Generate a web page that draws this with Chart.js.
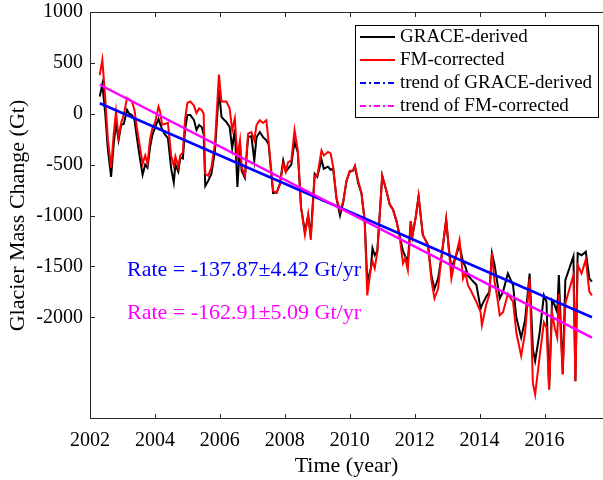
<!doctype html>
<html lang="en">
<head>
    <meta charset="utf-8">
    <title>Glacier Mass Change</title>
    <style>
        html, body { margin: 0; padding: 0; background: #fff; }
        #wrap { width: 603px; height: 480px; }
    </style>
    <script src="https://cdn.jsdelivr.net/npm/chart.js"></script>
</head>
<body>
<div id="wrap"><canvas id="massChart"></canvas></div>

<script>
    // values (Gt)
    const years = [
        2002.30, 2002.38, 2002.47, 2002.55, 2002.65, 2002.73, 2002.80, 2002.88, 2002.96, 2003.04,
        2003.14, 2003.21, 2003.29, 2003.37, 2003.45, 2003.53, 2003.62, 2003.70, 2003.77, 2003.85,
        2003.92, 2004.01, 2004.11, 2004.16, 2004.22, 2004.30, 2004.40, 2004.50, 2004.58, 2004.63,
        2004.72, 2004.78, 2004.86, 2004.93, 2005.00, 2005.09, 2005.20, 2005.28, 2005.36, 2005.44,
        2005.50, 2005.55, 2005.64, 2005.74, 2005.85, 2005.97, 2006.05, 2006.13, 2006.20, 2006.30,
        2006.38, 2006.46, 2006.54, 2006.62, 2006.67, 2006.77, 2006.87, 2006.97, 2007.06, 2007.13,
        2007.23, 2007.33, 2007.43, 2007.50, 2007.64, 2007.75, 2007.85, 2007.95, 2008.03, 2008.10,
        2008.20, 2008.30, 2008.40, 2008.50, 2008.62, 2008.72, 2008.80, 2008.92, 2009.00, 2009.13,
        2009.20, 2009.33, 2009.41, 2009.49, 2009.59, 2009.70, 2009.80, 2009.90, 2010.00, 2010.10,
        2010.16, 2010.26, 2010.36, 2010.46, 2010.54, 2010.65, 2010.70, 2010.77, 2010.85, 2011.00,
        2011.13, 2011.23, 2011.33, 2011.44, 2011.54, 2011.64, 2011.71, 2011.79, 2011.88, 2011.93,
        2012.04, 2012.12, 2012.25, 2012.41, 2012.52, 2012.61, 2012.72, 2012.82, 2012.97, 2013.05,
        2013.13, 2013.27, 2013.38, 2013.49, 2013.56, 2013.64, 2013.75, 2013.90, 2014.03, 2014.07,
        2014.20, 2014.30, 2014.38, 2014.46, 2014.54, 2014.62, 2014.72, 2014.87, 2015.03, 2015.13,
        2015.28, 2015.40, 2015.54, 2015.64, 2015.71, 2015.85, 2015.98, 2016.06, 2016.14, 2016.23,
        2016.31, 2016.39, 2016.44, 2016.56, 2016.64, 2016.89, 2016.95, 2017.02, 2017.14, 2017.27,
        2017.38, 2017.46
    ];
    const graceDerived = [
        170, 290, 0, -350, -620, -300, -90, -260, -110, -100,
        37, 0, -13, -60, -250, -420, -600, -500, -530, -330,
        -210, -130, -50, -100, -150, -200, -240, -540, -675, -500,
        -570, -430, -440, -150, -13, -13, -60, -160, -110, -130,
        -200, -710, -660, -590, -360, 235, -30, -60, -80, -130,
        -340, -150, -720, -300, -560, -630, -230, -220, -460, -230,
        -180, -230, -260, -300, -780, -775, -690, -460, -570, -540,
        -500, -275, -380, -920, -1160, -1000, -1200, -590, -620, -450,
        -540, -520, -550, -540, -830, -1000, -870, -660, -570, -560,
        -520, -680, -780, -1050, -1650, -1520, -1320, -1390, -1350, -610,
        -760, -890, -940, -1055, -1200, -1350, -1400, -1450, -1055, -1200,
        -1000, -810, -1190, -1290, -1600, -1720, -1620, -1420, -1040, -1320,
        -1520, -1400, -1290, -1460, -1500, -1590, -1630, -1680, -1915, -1880,
        -1800, -1750, -1370, -1485, -1650, -1815, -1750, -1570, -1685, -2000,
        -2200, -2030, -1570, -2315, -2430, -2150, -1785, -1850, -2710, -1835,
        -1880, -1950, -1585, -2560, -1635, -1400, -2630, -1370, -1390, -1355,
        -1620, -1650
    ];
    const fmCorrected = [
        380, 530, 150, -250, -530, -200, 20, -230, -90, -10,
        156, 140, 120, 37, -150, -310, -490, -410, -490, -250,
        -142, -80, 70, 20, -110, -100, -90, -410, -510, -420,
        -520, -410, -380, -50, 106, 120, 80, 7, 52, 37,
        0, -590, -610, -525, -290, 385, 120, 120, 120, 53,
        -160, -46, -420, -260, -525, -610, -195, -180, -260, -110,
        -63, -90, -63, -270, -760, -775, -690, -490, -570, -475,
        -460, -160, -360, -920, -1190, -990, -1240, -610, -610, -360,
        -410, -375, -390, -525, -825, -955, -860, -660, -560, -560,
        -510, -660, -775, -1055, -1785, -1520, -1450, -1520, -1355, -610,
        -760, -890, -940, -1055, -1220, -1470, -1420, -1535, -1055, -1200,
        -1000, -810, -1190, -1290, -1650, -1815, -1720, -1420, -1040, -1320,
        -1620, -1390, -1240, -1620, -1560, -1685, -1750, -1850, -1950, -2080,
        -1880, -1780, -1370, -1650, -1800, -1980, -1950, -1770, -1850, -2150,
        -2380, -2150, -1620, -2645, -2760, -2380, -2050, -2100, -2710, -1950,
        -2100, -2200, -1770, -2560, -1865, -1585, -2630, -1485, -1570, -1435,
        -1750, -1785
    ];
    // linear trend end points
    const trendYears = [2002.30, 2017.46];
    const trendGrace = [103, -2000];
    const trendFm = [285, -2200];

    const xTicks = [2002, 2004, 2006, 2008, 2010, 2012, 2014, 2016];
    const yTicks = [1000, 500, 0, -500, -1000, -1500, -2000];

    const seriesNames = ['GRACE-derived', 'FM-corrected', 'trend of GRACE-derived', 'trend of FM-corrected'];
    const seriesColors = ['#000000', '#ff0000', '#0000ff', '#ff00ff'];
    const rateTexts = ['Rate = -137.87\u00b14.42 Gt/yr', 'Rate = -162.91\u00b15.09 Gt/yr'];

    const serif = '"Liberation Serif", "Times New Roman", serif';

    function pts(xs, ys) {
        return xs.map((x, i) => ({x: x, y: ys[i]}));
    }

    // inward tick marks, legend box and rate labels, the way MATLAB draws them
    const decorations = {
        id: 'decorations',
        afterDraw(chart) {
            const ctx = chart.ctx;
            const area = chart.chartArea;
            const xs = chart.scales.x;
            const ys = chart.scales.y;
            ctx.save();
            ctx.strokeStyle = '#262626';
            ctx.lineWidth = 1;
            ctx.beginPath();
            ctx.moveTo(area.left + 0.5, area.bottom);
            ctx.lineTo(area.left + 0.5, area.top + 0.5);
            ctx.lineTo(area.right, area.top + 0.5);
            ctx.moveTo(area.left, area.bottom - 0.5);
            ctx.lineTo(area.right, area.bottom - 0.5);
            xTicks.forEach(v => {
                const px = Math.round(xs.getPixelForValue(v)) + 0.5;
                ctx.moveTo(px, area.bottom);
                ctx.lineTo(px, area.bottom - 5);
                ctx.moveTo(px, area.top);
                ctx.lineTo(px, area.top + 5);
            });
            yTicks.forEach(v => {
                const py = Math.round(ys.getPixelForValue(v)) + 0.5;
                ctx.moveTo(area.left, py);
                ctx.lineTo(area.left + 5, py);
            });
            ctx.stroke();

            // legend
            const bx = 355, by = 25, bw = 243, bh = 92;
            ctx.fillStyle = '#fff';
            ctx.fillRect(bx, by, bw, bh);
            ctx.strokeStyle = '#000';
            ctx.strokeRect(bx + 0.5, by + 0.5, bw, bh);
            ctx.font = '19px ' + serif;
            ctx.textBaseline = 'middle';
            ctx.textAlign = 'left';
            seriesNames.forEach((name, i) => {
                const ry = by + 12 + i * 23;
                ctx.strokeStyle = seriesColors[i];
                ctx.lineWidth = 2;
                ctx.setLineDash(i < 2 ? [] : [6, 3, 2, 3]);
                ctx.beginPath();
                ctx.moveTo(bx + 5, ry);
                ctx.lineTo(bx + 40, ry);
                ctx.stroke();
                ctx.setLineDash([]);
                ctx.fillStyle = '#000';
                ctx.fillText(name, bx + 45, ry);
            });

            // rates
            ctx.font = '22px ' + serif;
            ctx.fillStyle = seriesColors[2];
            ctx.fillText(rateTexts[0], 127, 270);
            ctx.fillStyle = seriesColors[3];
            ctx.fillText(rateTexts[1], 127, 313);
            ctx.restore();
        }
    };

    new Chart(document.getElementById('massChart'), {
        type: 'line',
        data: {
            datasets: [
                {label: seriesNames[0], data: pts(years, graceDerived), borderColor: seriesColors[0], borderWidth: 2, order: 3},
                {label: seriesNames[1], data: pts(years, fmCorrected), borderColor: seriesColors[1], borderWidth: 2, order: 2},
                {label: seriesNames[2], data: pts(trendYears, trendGrace), borderColor: seriesColors[2], borderWidth: 2.5, order: 1},
                {label: seriesNames[3], data: pts(trendYears, trendFm), borderColor: seriesColors[3], borderWidth: 2.5, order: 0}
            ]
        },
        options: {
            responsive: true,
            maintainAspectRatio: false,
            animation: false,
            layout: {padding: {top: 1, right: 0, left: 0, bottom: 0}},
            elements: {point: {radius: 0}, line: {tension: 0, fill: false}},
            plugins: {legend: {display: false}, tooltip: {enabled: false}},
            scales: {
                x: {
                    type: 'linear',
                    min: 2002,
                    max: 2017.8,
                    grid: {display: false, drawTicks: false},
                    border: {display: false},
                    afterBuildTicks: s => { s.ticks = xTicks.map(v => ({value: v})); },
                    afterFit: s => { s.height = 61; },
                    ticks: {
                        padding: 10,
                        color: '#000',
                        font: {family: serif, size: 20},
                        callback: v => String(v)
                    },
                    title: {
                        display: true,
                        text: 'Time (year)',
                        color: '#000',
                        font: {family: serif, size: 22},
                        padding: {top: 0, bottom: 1}
                    }
                },
                y: {
                    min: -3000,
                    max: 1000,
                    grid: {display: false, drawTicks: false},
                    border: {display: false},
                    afterBuildTicks: s => { s.ticks = yTicks.map(v => ({value: v})); },
                    afterFit: s => { s.width = 90; s.paddingTop = 12; },
                    ticks: {
                        padding: 7,
                        color: '#000',
                        font: {family: serif, size: 20},
                        callback: v => String(v)
                    },
                    title: {
                        display: true,
                        text: 'Glacier Mass Change (Gt)',
                        color: '#000',
                        font: {family: serif, size: 22},
                        padding: {top: 5, bottom: 0}
                    }
                }
            }
        },
        plugins: [decorations]
    });
</script>
</body>
</html>
